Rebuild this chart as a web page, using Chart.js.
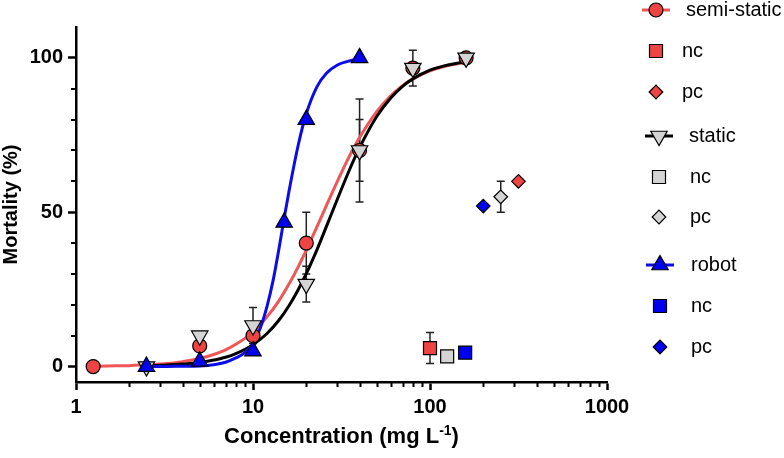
<!DOCTYPE html>
<html lang="en">

<head>
  <meta charset="UTF-8" />
  <title>Mortality vs concentration</title>
  <script src="https://cdn.jsdelivr.net/npm/chart.js"></script>
  <style>
    html, body { margin: 0; padding: 0; background: #fff; }
    .chart-box { width: 784px; height: 458px; }
  </style>
</head>

<body>
  <div class="chart-box">
    <canvas id="mortalityChart" width="784" height="458"></canvas>
  </div>

  <script>
    // measured points (concentration in mg/L, mortality in %)
    const semiX = [1.25, 5, 10, 20, 40, 80, 160];
    const semiY = [0, 6.7, 10, 40, 70, 96.7, 100];
    const semiErr = [0, 0, 0, 10, 16.7, 0, 0];

    const staticX = [2.5, 5, 10, 20, 40, 80, 160];
    const staticY = [0, 10, 13.3, 26.7, 70, 96.7, 100];
    const staticErr = [0, 0, 5.8, 5.8, 10, 5.8, 0];

    const robotX = [2.5, 5, 10, 15, 20, 40];
    const robotY = [0, 1.7, 5, 46.7, 80, 100];

    // negative / positive controls
    const semiNcX = [100], semiNcY = [6], semiNcErr = [5];
    const semiPcX = [316], semiPcY = [60];
    const staticNcX = [125], staticNcY = [3.3];
    const staticPcX = [251], staticPcY = [55], staticPcErr = [5];
    const robotNcX = [158], robotNcY = [4.5];
    const robotPcX = [200], robotPcY = [52];

    // fitted curves
    const semiFitX = [1.25, 1.5, 2, 2.5, 3, 4, 5, 6, 7, 8, 10, 12, 14, 16, 18, 20, 23, 26, 30, 35, 40, 50, 60, 70, 80, 100, 120, 140, 160];
    const semiFitY = [0.1, 0.2, 0.3, 0.6, 0.8, 1.6, 2.6, 3.9, 5.4, 7.2, 11.2, 16.1, 21.3, 26.8, 32.3, 37.7, 45.3, 52.2, 60.1, 68.1, 74.2, 82.6, 87.7, 91.0, 93.2, 95.8, 97.2, 98.0, 98.5];

    const staticFitX = [2.5, 3, 4, 5, 6, 7, 8, 10, 12, 14, 16, 18, 20, 23, 26, 30, 35, 40, 50, 60, 70, 80, 100, 120, 140, 160];
    const staticFitY = [0.2, 0.4, 0.8, 1.3, 2.1, 3.0, 4.2, 7.1, 10.7, 15.0, 19.8, 24.9, 30.1, 37.9, 45.4, 54.3, 63.6, 70.9, 81.0, 87.0, 90.8, 93.2, 96.0, 97.4, 98.2, 98.7];

    const robotFitX = [2.5, 3, 4, 5, 6, 7, 8, 9, 10, 11, 12, 13, 14, 15, 16, 18, 20, 23, 26, 30, 35, 40];
    const robotFitY = [0, 0, 0.1, 0.2, 0.6, 1.4, 2.8, 4.5, 7.5, 12.5, 19.5, 28, 38, 48, 57, 71.7, 81.9, 90.7, 95, 97.7, 99, 99.5];

    // axis ticks
    const xMajorTicks = [1, 10, 100, 1000];
    const xMinorTicks = [2, 3, 4, 5, 6, 7, 8, 9, 20, 30, 40, 50, 60, 70, 80, 90, 200, 300, 400, 500, 600, 700, 800, 900];
    const yMajorTicks = [0, 50, 100];
    const yMinorTicks = [10, 20, 30, 40, 60, 70, 80, 90];

    const RED = '#ee4444', RED_LINE = '#f05656';
    const GREY = '#d4d4d4';
    const BLUE = '#0000f0', BLUE_LINE = '#0c0ce6';
    const FONT = "'Liberation Sans', Arial, sans-serif";

    const pts = (xs, ys) => xs.map((x, i) => ({ x: x, y: ys[i] }));

    function markers(label, xs, ys, color, style, radius, extra) {
      return Object.assign({
        type: 'scatter',
        label: label,
        data: pts(xs, ys),
        showLine: false,
        pointStyle: style,
        pointRadius: radius,
        pointBackgroundColor: color,
        pointBorderColor: '#000',
        pointBorderWidth: 1.2,
        order: 4
      }, extra || {});
    }

    function fitLine(label, xs, ys, color, order) {
      return {
        type: 'line',
        label: label,
        data: pts(xs, ys),
        borderColor: color,
        borderWidth: 3,
        pointRadius: 0,
        fill: false,
        cubicInterpolationMode: 'monotone',
        order: order
      };
    }

    const datasets = [
      markers('robot', robotX, robotY, BLUE, 'triangle', 9.5, { order: 1 }),
      markers('static', staticX, staticY, GREY, 'triangle', 9.5, { order: 2, pointRotation: 180, errors: staticErr }),
      markers('semi-static', semiX, semiY, RED, 'circle', 7, { order: 3, errors: semiErr }),
      markers('robot nc', robotNcX, robotNcY, BLUE, 'rect', 9.2),
      markers('robot pc', robotPcX, robotPcY, BLUE, 'rectRot', 6.8),
      markers('static nc', staticNcX, staticNcY, GREY, 'rect', 9.2),
      markers('static pc', staticPcX, staticPcY, GREY, 'rectRot', 6.8, { errors: staticPcErr }),
      markers('semi-static nc', semiNcX, semiNcY, RED, 'rect', 9.2, { errors: semiNcErr }),
      markers('semi-static pc', semiPcX, semiPcY, RED, 'rectRot', 6.8),
      fitLine('robot fit', robotFitX, robotFitY, BLUE_LINE, 11),
      fitLine('static fit', staticFitX, staticFitY, '#000', 12),
      fitLine('semi-static fit', semiFitX, semiFitY, RED_LINE, 13)
    ];

    // legend rows: text, dataset index, line colour (if the entry has a curve)
    const legendRows = [
      { text: 'semi-static', ds: 2, line: RED_LINE, x: 656, tx: 686, y: 10 },
      { text: 'nc', ds: 7, x: 656, tx: 682, y: 51 },
      { text: 'pc', ds: 8, x: 656, tx: 682, y: 92 },
      { text: 'static', ds: 1, line: '#000', x: 659, tx: 689, y: 136 },
      { text: 'nc', ds: 5, x: 659, tx: 690, y: 177 },
      { text: 'pc', ds: 6, x: 659, tx: 690, y: 217 },
      { text: 'robot', ds: 0, line: BLUE_LINE, x: 660, tx: 691, y: 265 },
      { text: 'nc', ds: 3, x: 660, tx: 691, y: 306 },
      { text: 'pc', ds: 4, x: 660, tx: 691, y: 347 }
    ];

    // vertical error bars with caps, under the markers
    const errorBars = {
      id: 'errorBars',
      beforeDatasetsDraw(chart) {
        const ctx = chart.ctx;
        const yScale = chart.scales.y;
        ctx.save();
        ctx.strokeStyle = '#222';
        ctx.lineWidth = 1.5;
        chart.data.datasets.forEach((ds, i) => {
          if (!ds.errors) return;
          chart.getDatasetMeta(i).data.forEach((pt, j) => {
            const e = ds.errors[j];
            if (!e) return;
            const v = ds.data[j].y;
            const top = yScale.getPixelForValue(v + e);
            const bot = yScale.getPixelForValue(v - e);
            ctx.beginPath();
            ctx.moveTo(pt.x, top); ctx.lineTo(pt.x, bot);
            ctx.moveTo(pt.x - 4, top); ctx.lineTo(pt.x + 4, top);
            ctx.moveTo(pt.x - 4, bot); ctx.lineTo(pt.x + 4, bot);
            ctx.stroke();
          });
        });
        ctx.restore();
      }
    };

    // minor ticks, x axis title with superscript, and the legend
    const decorations = {
      id: 'decorations',
      afterDraw(chart) {
        const ctx = chart.ctx;
        const { x: xs, y: ys } = chart.scales;
        const area = chart.chartArea;
        ctx.save();
        ctx.strokeStyle = '#000';
        ctx.lineWidth = 2;
        ctx.beginPath();
        xMinorTicks.forEach(v => {
          const px = Math.round(xs.getPixelForValue(v)) + 0.5;
          ctx.moveTo(px, area.bottom); ctx.lineTo(px, area.bottom + 5);
        });
        yMinorTicks.forEach(v => {
          const py = Math.round(ys.getPixelForValue(v));
          ctx.moveTo(area.left - 5, py); ctx.lineTo(area.left, py);
        });
        ctx.stroke();

        // x title: Concentration (mg L-1)
        const main = 'Concentration (mg L';
        const sup = '-1';
        const tail = ')';
        ctx.fillStyle = '#000';
        ctx.textBaseline = 'alphabetic';
        ctx.textAlign = 'left';
        ctx.font = 'bold 22px ' + FONT;
        const wMain = ctx.measureText(main).width;
        const wTail = ctx.measureText(tail).width;
        ctx.font = 'bold 14px ' + FONT;
        const wSup = ctx.measureText(sup).width;
        let tx = (area.left + area.right) / 2 - (wMain + wSup + wTail) / 2;
        const base = 443;
        ctx.font = 'bold 22px ' + FONT;
        ctx.fillText(main, tx, base);
        tx += wMain;
        ctx.font = 'bold 14px ' + FONT;
        ctx.fillText(sup, tx, base - 8);
        tx += wSup;
        ctx.font = 'bold 22px ' + FONT;
        ctx.fillText(tail, tx, base);

        // legend
        legendRows.forEach(row => {
          const ds = chart.data.datasets[row.ds];
          if (row.line) {
            ctx.strokeStyle = row.line;
            ctx.lineWidth = 3;
            ctx.beginPath();
            ctx.moveTo(row.x - 14, row.y); ctx.lineTo(row.x + 14, row.y);
            ctx.stroke();
          }
          ctx.fillStyle = ds.pointBackgroundColor;
          ctx.strokeStyle = '#000';
          ctx.lineWidth = 1.2;
          Chart.helpers.drawPoint(ctx, {
            pointStyle: ds.pointStyle,
            rotation: ds.pointRotation || 0,
            radius: ds.pointRadius,
            borderWidth: 1.2
          }, row.x, row.y);
          ctx.fillStyle = '#000';
          ctx.font = '20px ' + FONT;
          ctx.fillText(row.text, row.tx, row.y + 6);
        });
        ctx.restore();
      }
    };

    new Chart(document.getElementById('mortalityChart'), {
      data: { datasets: datasets },
      options: {
        responsive: false,
        animation: false,
        devicePixelRatio: 1,
        layout: { padding: { top: 27, right: 177, left: 0, bottom: 0 } },
        plugins: { legend: { display: false }, tooltip: { enabled: false } },
        scales: {
          x: {
            type: 'logarithmic',
            min: 1,
            max: 1000,
            afterBuildTicks: s => { s.ticks = xMajorTicks.map(v => ({ value: v })); },
            afterFit: s => { s.height = 76; },
            ticks: {
              color: '#000',
              padding: 5,
              maxRotation: 0,
              font: { family: FONT, size: 20, weight: 'bold' },
              callback: v => String(v)
            },
            grid: { drawOnChartArea: false, tickLength: 8, tickWidth: 2.5, tickColor: '#000' },
            border: { color: '#000', width: 2.5 }
          },
          y: {
            type: 'linear',
            min: -5,
            max: 110,
            afterBuildTicks: s => { s.ticks = yMajorTicks.map(v => ({ value: v })); },
            afterFit: s => { s.width = 76; },
            ticks: {
              color: '#000',
              padding: 5,
              font: { family: FONT, size: 20, weight: 'bold' }
            },
            grid: { drawOnChartArea: false, tickLength: 8, tickWidth: 2.5, tickColor: '#000' },
            border: { color: '#000', width: 2.5 },
            title: {
              display: true,
              text: 'Mortality (%)',
              color: '#000',
              padding: { top: 1, bottom: 0 },
              font: { family: FONT, size: 20, weight: 'bold', lineHeight: 1 }
            }
          }
        }
      },
      plugins: [errorBars, decorations]
    });
  </script>
</body>

</html>
